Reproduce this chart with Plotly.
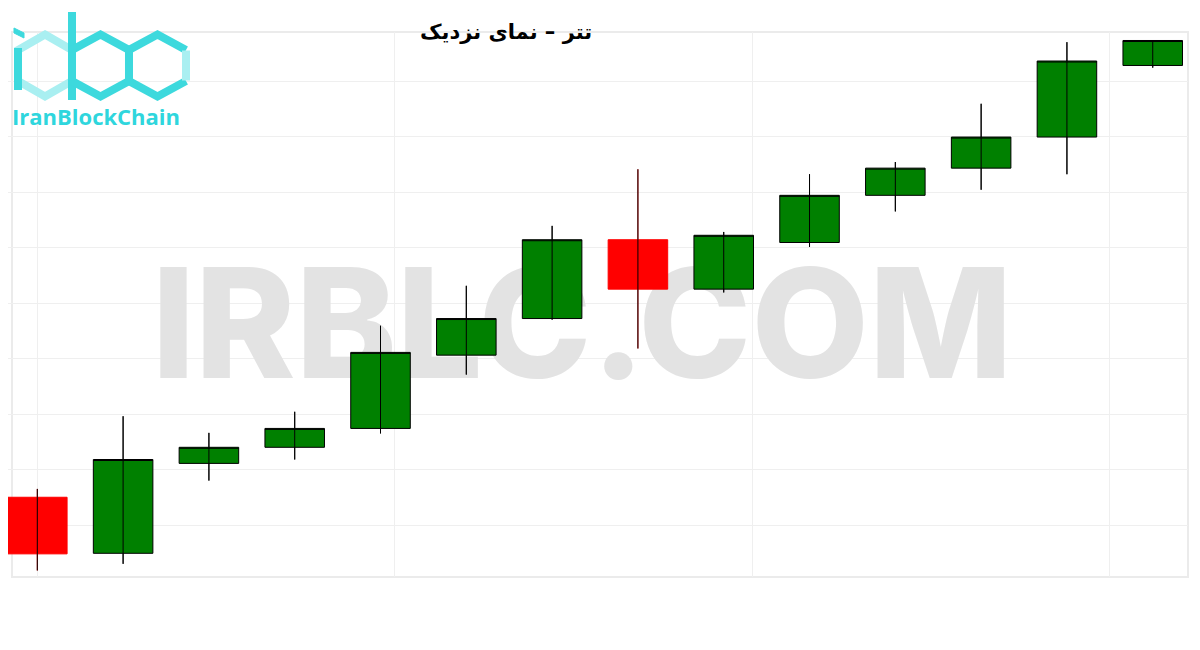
import plotly.graph_objects as go

# ---------------- data ----------------
periods = list(range(14))
open_ = [50050, 49949, 50111, 50140, 50174, 50306, 50372, 50514, 50425, 50509, 50594, 50643, 50699, 50828]
high = [50065, 50196, 50166, 50204, 50359, 50431, 50539, 50641, 50528, 50632, 50654, 50759, 50870, 50873]
low = [49918, 49930, 50080, 50118, 50165, 50271, 50370, 50318, 50419, 50501, 50565, 50604, 50632, 50824]
close = [49948, 50118, 50140, 50174, 50311, 50372, 50514, 50425, 50522, 50594, 50643, 50699, 50836, 50873]

title_text = "تتر – نمای نزدیک"
watermark_text = "IRBLC.COM"
logo_text = "IranBlockChain"

# ---------------- geometry helpers (page pixel -> paper) ----------------
O = 8                      # default page body margin
W, H = 1200 - O, 650 - O   # figure size
L, R, T, B = 0, 12, 24, 73
PW, PH = W - L - R, H - T - B


def px(x):
    return (x - O - L) / PW


def py(y):
    return (H - B - (y - O)) / PH


def path(points, close_path=True):
    s = "M " + " L ".join(f"{px(x):.5f},{py(y):.5f}" for x, y in points)
    return s + (" Z" if close_path else "")


def hex_pts(cx, cy, w, h):
    return [(cx, cy - h), (cx + w, cy - h / 2), (cx + w, cy + h / 2),
            (cx, cy + h), (cx - w, cy + h / 2), (cx - w, cy - h / 2)]


# ---------------- traces ----------------
fig = go.Figure()

# watermark on the base (hidden) axes, below the candles
fig.add_trace(go.Scatter(
    x=[px(582)], y=[py(340)], mode="text", text=[watermark_text],
    textfont=dict(family="Inter", size=152, color="#E3E3E3", weight=800),
    textposition="middle center", hoverinfo="skip", showlegend=False,
    xaxis="x", yaxis="y"))

fig.add_trace(go.Candlestick(
    x=periods, open=open_, high=high, low=low, close=close,
    increasing=dict(fillcolor="#008000", line=dict(color="#000000", width=1)),
    decreasing=dict(fillcolor="#FF0000", line=dict(color="#FF0000", width=1)),
    whiskerwidth=0, showlegend=False, xaxis="x2", yaxis="y2"))

# wicks drawn through the bodies
wx, wy = [], []
for xi, hi, lo in zip(periods, high, low):
    wx += [xi, xi, None]
    wy += [lo, hi, None]
fig.add_trace(go.Scatter(
    x=wx, y=wy, mode="lines", line=dict(color="#000000", width=1),
    hoverinfo="skip", showlegend=False, xaxis="x2", yaxis="y2"))

# ---------------- frame + logo shapes ----------------
dark = "#3DD9DD"
light = "#A9EFF1"
shapes = [dict(type="rect", xref="paper", yref="paper", layer="below",
               x0=px(12), x1=px(1188), y0=py(577), y1=py(32),
               line=dict(color="#EBEBEB", width=2), fillcolor="rgba(0,0,0,0)")]
shapes.append(dict(type="path", xref="paper", yref="paper",
                   path=path(hex_pts(45, 65.5, 27, 31)),
                   line=dict(color=light, width=8)))
shapes.append(dict(type="line", xref="paper", yref="paper",
                   x0=px(18), y0=py(48), x1=px(18), y1=py(90),
                   line=dict(color=dark, width=8)))
shapes.append(dict(type="path", xref="paper", yref="paper",
                   path=path([(14, 28), (24, 33), (24, 38), (14, 33)]),
                   fillcolor=dark, line=dict(color=dark, width=1)))
shapes.append(dict(type="line", xref="paper", yref="paper",
                   x0=px(72), y0=py(12), x1=px(72), y1=py(100),
                   line=dict(color=dark, width=8)))
shapes.append(dict(type="path", xref="paper", yref="paper",
                   path=path(hex_pts(100.5, 65.5, 28.5, 31)),
                   line=dict(color=dark, width=8)))
cp = hex_pts(157.5, 65.5, 28.5, 31)
shapes.append(dict(type="path", xref="paper", yref="paper",
                   path=path([cp[2], cp[3], cp[4], cp[5], cp[0], cp[1]], close_path=False),
                   line=dict(color=dark, width=8)))
shapes.append(dict(type="line", xref="paper", yref="paper",
                   x0=px(186), y0=py(50.5), x1=px(186), y1=py(80.5),
                   line=dict(color=light, width=8)))

annotations = [
    dict(text=f"<b>{title_text}</b>", xref="paper", yref="paper",
         x=px(505.5), y=py(32), xanchor="center", yanchor="middle", showarrow=False,
         font=dict(family="DejaVu Sans", size=21, color="#000000")),
    dict(text=f"<b>{logo_text}</b>", xref="paper", yref="paper",
         x=px(10), y=py(115.5), xanchor="left", yanchor="middle", showarrow=False,
         font=dict(family="Open Sans", size=22, color="#2FD6DD")),
]

grid_c = "#EFEFEF"
fig.update_layout(
    width=W, height=H,
    margin=dict(l=L, r=R, t=T, b=B, pad=0),
    paper_bgcolor="#FFFFFF", plot_bgcolor="#FFFFFF",
    showlegend=False,
    boxgap=0.306, boxgroupgap=0,
    xaxis=dict(range=[0, 1], visible=False, fixedrange=True),
    yaxis=dict(range=[0, 1], visible=False, fixedrange=True),
    xaxis2=dict(overlaying="x", range=[-0.3415, 13.411], showticklabels=False,
                showgrid=True, gridcolor=grid_c, tick0=0, dtick=12.5 / 3,
                zeroline=False, showline=False, ticks="",
                rangeslider=dict(visible=False)),
    yaxis2=dict(overlaying="y", range=[49906.3, 50888.3], showticklabels=False,
                showgrid=True, gridcolor=grid_c, tick0=50000, dtick=100,
                zeroline=False, showline=False, ticks=""),
    shapes=shapes,
    annotations=annotations,
)

fig.write_html("out.html")
